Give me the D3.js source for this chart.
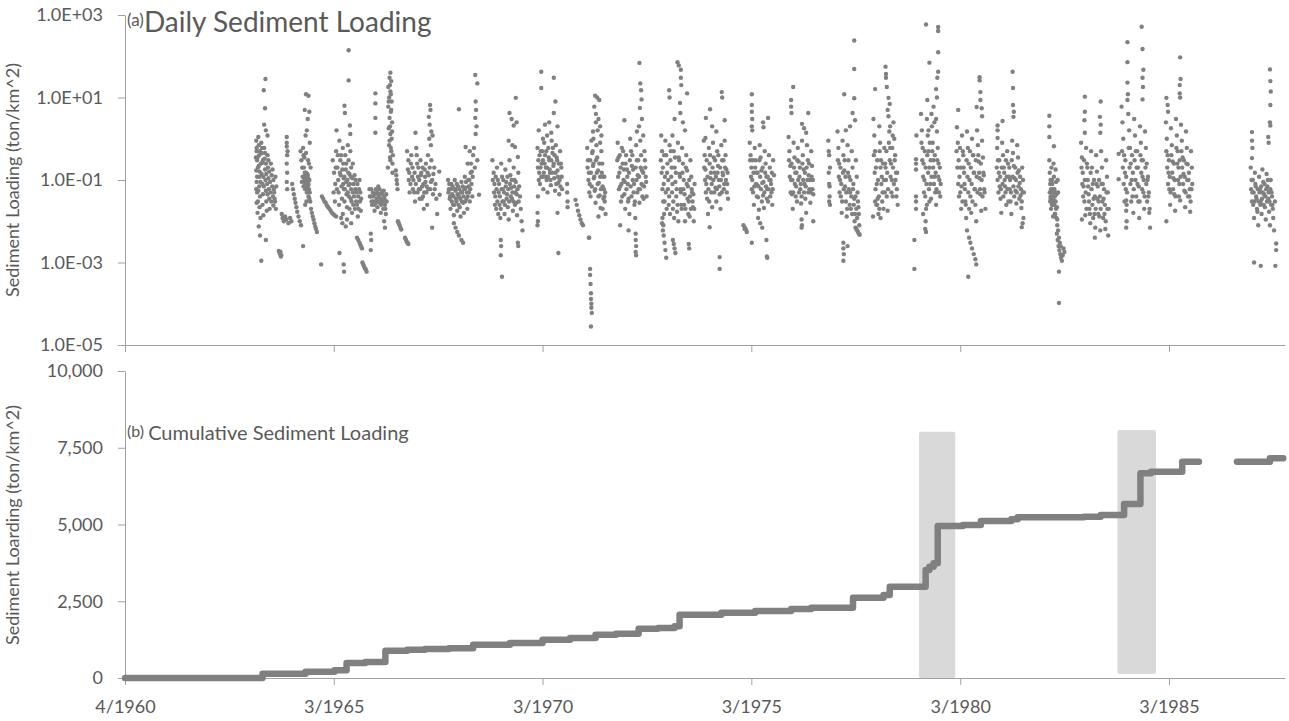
<!DOCTYPE html>
<html>
<head>
<meta charset="utf-8">
<script src="https://cdn.jsdelivr.net/npm/d3@7"></script>
<style>
  body { margin: 0; background: #fff; }
  svg text { font-family: Lato, "Open Sans", sans-serif; fill: #595959; }
</style>
</head>
<body>
<div id="chart"></div>
<script>
// daily sediment loading (ton/km^2), one array per wet season: [decimal year, value]
var c1963 = [[1963.61,28],[1963.57,15],[1963.60,5.5],[1963.58,2.2],[1963.62,1.6],[1963.66,1.2],
  [1963.39,0.9],[1963.40,0.5],[1963.41,0.3],[1963.39,0.17],[1963.40,0.09],[1963.41,0.05],[1963.40,0.028],[1963.42,0.016],
  [1963.44,1.1],[1963.45,0.7],[1963.46,0.4],[1963.45,0.22],[1963.47,0.12],[1963.46,0.07],[1963.48,0.04],[1963.47,0.022],[1963.49,0.012],
  [1963.51,0.8],[1963.52,0.45],[1963.53,0.26],[1963.52,0.14],[1963.54,0.08],[1963.55,0.045],[1963.54,0.025],[1963.56,0.014],
  [1963.58,0.6],[1963.59,0.33],[1963.60,0.18],[1963.61,0.1],[1963.62,0.055],[1963.63,0.03],[1963.64,0.018],
  [1963.66,0.4],[1963.67,0.2],[1963.68,0.11],[1963.69,0.06],[1963.70,0.035],[1963.71,0.02],
  [1963.74,0.25],[1963.76,0.13],[1963.77,0.07],[1963.79,0.04],[1963.80,0.024],[1963.82,0.05],[1963.84,0.03],[1963.86,0.02],
  [1963.45,0.0075],[1963.48,0.0045],[1963.62,0.0035],[1963.51,0.0011],
  [1963.93,0.0019],[1963.95,0.0017],[1963.96,0.0016],[1963.98,0.0014],[1963.97,0.0018],[1963.99,0.0015],
  [1963.40,0.6],[1963.42,0.35],[1963.43,0.2],[1963.41,0.12],[1963.44,0.055],[1963.43,0.03],[1963.47,0.16],[1963.49,0.09],[1963.48,0.5],
  [1963.50,0.25],[1963.53,0.6],[1963.55,0.3],[1963.56,0.12],[1963.57,0.07],[1963.60,0.45],[1963.62,0.25],[1963.63,0.14],[1963.65,0.08],
  [1963.66,0.045],[1963.68,0.3],[1963.70,0.16],[1963.72,0.09],[1963.73,0.05],[1963.75,0.03],[1963.78,0.18],[1963.80,0.1],[1963.81,0.06],
  [1963.83,0.035],[1963.85,0.12],[1963.87,0.07],[1963.38,0.35],[1963.39,0.06]];

var c1964 = [[1964.12,1.1],[1964.12,0.65],[1964.13,0.4],[1964.12,0.25],[1964.13,0.15],[1964.12,0.09],[1964.13,0.06],
  [1964.00,0.015],[1964.02,0.012],[1964.05,0.01],[1964.08,0.013],[1964.11,0.011],[1964.16,0.009],[1964.20,0.012],[1964.23,0.01],
  [1964.25,0.08],[1964.27,0.06],[1964.29,0.045],[1964.31,0.035],[1964.33,0.028],[1964.35,0.022],[1964.37,0.017],[1964.40,0.013],[1964.43,0.01],[1964.46,0.008],
  [1964.58,12],[1964.64,11],[1964.55,5],[1964.66,4.5],[1964.62,3],[1964.60,1.6],[1964.57,1.2],
  [1964.45,0.5],[1964.47,0.3],[1964.49,0.2],[1964.51,0.6],[1964.53,0.12],[1964.54,0.35],[1964.55,0.08],[1964.56,0.06],[1964.57,0.1],
  [1964.58,0.15],[1964.59,0.07],[1964.60,0.05],[1964.61,0.09],[1964.62,0.13],[1964.63,0.06],[1964.64,0.04],[1964.65,0.25],[1964.66,0.035],
  [1964.67,0.8],[1964.68,0.03],[1964.70,0.02],[1964.56,0.025],[1964.59,0.03],[1964.61,0.065],[1964.63,0.075],
  [1964.72,0.016],[1964.74,0.013],[1964.76,0.011],[1964.78,0.009],[1964.80,0.0075],[1964.82,0.0065],[1964.84,0.0055],
  [1964.51,0.0025],[1964.94,0.0009],
  [1964.48,0.09],[1964.50,0.12],[1964.52,0.07],[1964.53,0.2],[1964.54,0.1],[1964.55,0.15],[1964.56,0.11],[1964.57,0.07],[1964.58,0.09],
  [1964.59,0.12],[1964.60,0.08],[1964.61,0.14],[1964.62,0.1],[1964.63,0.11],[1964.64,0.08],[1964.65,0.06],[1964.66,0.1],[1964.67,0.05],
  [1964.52,0.4],[1964.58,0.45],[1964.63,0.3],[1964.69,0.2],[1964.14,0.5],[1964.12,0.8]];

var c1965 = [[1964.96,0.04],[1964.99,0.035],[1965.02,0.03],[1965.05,0.028],[1965.08,0.024],[1965.11,0.022],[1965.14,0.02],[1965.17,0.018],
  [1965.20,0.016],[1965.23,0.015],[1965.26,0.014],[1965.30,0.013],
  [1965.60,140],[1965.60,26],[1965.50,6.3],[1965.51,4.2],[1965.31,1.6],[1965.63,2.1],[1965.64,1.3],
  [1965.22,0.3],[1965.25,0.15],[1965.28,0.08],[1965.30,0.5],[1965.33,0.2],[1965.35,0.1],[1965.36,0.05],[1965.38,0.9],[1965.40,0.3],
  [1965.41,0.13],[1965.43,0.07],[1965.44,0.035],[1965.46,0.6],[1965.47,0.25],[1965.48,0.11],[1965.49,0.06],[1965.50,0.03],[1965.52,0.4],
  [1965.53,0.18],[1965.54,0.09],[1965.55,0.045],[1965.56,0.022],[1965.58,0.7],[1965.59,0.15],[1965.60,0.075],[1965.61,0.04],[1965.62,0.02],
  [1965.64,0.5],[1965.65,0.12],[1965.66,0.06],[1965.67,0.03],[1965.68,0.016],[1965.70,0.25],[1965.72,0.08],[1965.73,0.04],[1965.75,0.02],
  [1965.77,0.1],[1965.79,0.05],[1965.80,0.025],[1965.82,0.013],[1965.85,0.06],[1965.87,0.03],[1965.89,0.018],[1965.42,0.012],[1965.45,0.009],
  [1965.53,0.0075],[1965.38,0.0017],[1965.48,0.0009],[1965.49,0.0006],
  [1965.80,0.004],[1965.83,0.0035],[1965.86,0.003],[1965.88,0.0027],[1965.90,0.0024],[1965.92,0.0022],[1965.93,0.001],[1965.95,0.0009],
  [1965.97,0.0008],[1965.99,0.00072],[1966.01,0.00068],[1966.03,0.0006],
  [1965.24,0.05],[1965.27,0.03],[1965.29,0.2],[1965.32,0.06],[1965.34,0.4],[1965.37,0.025],[1965.39,0.15],[1965.42,0.4],[1965.45,0.18],
  [1965.47,0.08],[1965.50,0.12],[1965.51,0.06],[1965.54,0.25],[1965.57,0.1],[1965.58,0.05],[1965.60,0.3],[1965.62,0.14],[1965.63,0.08],
  [1965.65,0.035],[1965.66,0.2],[1965.69,0.11],[1965.70,0.05],[1965.71,0.025],[1965.74,0.13],[1965.76,0.06],[1965.78,0.03],[1965.81,0.08],
  [1965.83,0.04],[1965.84,0.02],[1965.86,0.1],[1965.88,0.05],[1965.90,0.035],[1965.46,0.015],[1965.56,0.011],[1965.66,0.009]];

var c1966 = [[1966.24,12.6],[1966.24,7.2],[1966.24,3.2],[1966.24,1.4],[1966.60,40],[1966.58,30],[1966.62,25],[1966.55,18],[1966.60,14],
  [1966.57,10],[1966.63,8],[1966.55,6],[1966.61,4.5],[1966.58,3.2],[1966.64,2.5],[1966.56,1.8],[1966.60,1.3],[1966.63,1.0],[1966.57,0.7],
  [1966.62,0.5],[1966.59,0.35],[1966.65,0.25],[1966.54,0.2],
  [1966.73,0.17],[1966.74,0.13],[1966.75,0.1],[1966.76,0.08],[1966.77,0.06],
  [1966.10,0.06],[1966.13,0.04],[1966.16,0.025],[1966.18,0.05],[1966.20,0.03],[1966.22,0.018],[1966.25,0.06],[1966.27,0.035],[1966.29,0.022],
  [1966.31,0.07],[1966.33,0.045],[1966.35,0.028],[1966.37,0.016],[1966.39,0.05],[1966.41,0.032],[1966.43,0.02],[1966.45,0.04],[1966.47,0.025],
  [1966.49,0.015],[1966.51,0.03],
  [1966.13,0.005],[1966.14,0.0035],[1966.13,0.002],[1966.45,0.01],[1966.47,0.007],
  [1966.78,0.01],[1966.80,0.009],[1966.82,0.008],[1966.84,0.007],[1966.86,0.0063],[1966.95,0.004],[1966.97,0.0036],[1966.99,0.0032],
  [1967.01,0.003],[1967.03,0.0028],
  [1966.11,0.04],[1966.14,0.06],[1966.15,0.03],[1966.19,0.04],[1966.21,0.025],[1966.23,0.045],[1966.26,0.028],[1966.28,0.05],[1966.30,0.03],
  [1966.32,0.04],[1966.34,0.06],[1966.36,0.035],[1966.38,0.025],[1966.40,0.045],[1966.42,0.03],[1966.44,0.055],[1966.46,0.035],[1966.48,0.02],
  [1966.50,0.045],[1966.59,20],[1966.61,12],[1966.56,8],[1966.62,5],[1966.59,2],[1966.64,1.5],[1966.58,0.9],[1966.61,0.6],[1966.66,0.4],
  [1966.60,0.3],[1966.65,0.15]];

var c1967 = [[1967.20,1.4],[1967.55,6.6],[1967.56,5],[1967.52,3.4],[1967.54,2.2],[1967.58,1.5],[1967.53,1.0],[1967.57,0.7],[1967.61,1.2],
  [1967.00,0.5],[1967.03,0.3],[1967.05,0.15],[1967.08,0.08],[1967.10,0.4],[1967.13,0.2],[1967.15,0.1],[1967.17,0.05],[1967.19,0.03],
  [1967.22,0.6],[1967.24,0.25],[1967.26,0.12],[1967.28,0.06],[1967.30,0.035],[1967.32,0.3],[1967.34,0.15],[1967.36,0.07],[1967.38,0.04],
  [1967.40,0.02],[1967.42,0.18],[1967.44,0.09],[1967.46,0.05],[1967.48,0.025],[1967.50,0.4],[1967.52,0.13],[1967.55,0.06],[1967.58,0.3],
  [1967.60,0.1],[1967.62,0.045],[1967.65,0.2],[1967.68,0.08],[1967.70,0.035],[1967.72,0.015],[1967.60,0.007],
  [1967.77,0.16],[1967.78,0.044],
  [1967.02,0.18],[1967.04,0.1],[1967.06,0.05],[1967.09,0.25],[1967.12,0.12],[1967.14,0.06],[1967.18,0.15],[1967.21,0.08],[1967.23,0.4],
  [1967.25,0.05],[1967.27,0.2],[1967.29,0.1],[1967.31,0.06],[1967.33,0.13],[1967.35,0.035],[1967.37,0.2],[1967.39,0.08],[1967.41,0.05],
  [1967.43,0.12],[1967.45,0.25],[1967.47,0.07],[1967.49,0.15],[1967.51,0.06],[1967.54,0.2],[1967.57,0.09],[1967.63,0.14],[1967.66,0.06]];

var c1968 = [[1968.63,35],[1968.68,22],[1968.24,5.2],[1968.64,8],[1968.65,5],[1968.63,3.2],[1968.66,2],[1968.64,1.3],[1968.40,0.63],
  [1968.50,0.5],[1968.58,0.4],[1968.68,0.3],[1968.45,0.25],[1968.62,0.2],[1968.55,0.16],[1968.72,0.044],
  [1967.98,0.1],[1968.00,0.06],[1968.02,0.035],[1968.04,0.02],[1968.06,0.08],[1968.08,0.045],[1968.10,0.025],[1968.12,0.014],
  [1968.14,0.1],[1968.16,0.055],[1968.18,0.03],[1968.20,0.018],[1968.22,0.07],[1968.24,0.04],[1968.26,0.022],[1968.28,0.013],
  [1968.30,0.09],[1968.32,0.05],[1968.34,0.028],[1968.36,0.016],[1968.38,0.12],[1968.40,0.065],[1968.42,0.035],[1968.44,0.02],
  [1968.46,0.1],[1968.48,0.05],[1968.50,0.03],[1968.52,0.15],[1968.54,0.08],[1968.56,0.04],
  [1968.12,0.009],[1968.16,0.007],[1968.20,0.0055],[1968.24,0.0045],[1968.30,0.0035],[1968.34,0.003],
  [1967.99,0.05],[1968.01,0.08],[1968.03,0.04],[1968.05,0.06],[1968.07,0.03],[1968.09,0.07],[1968.11,0.04],[1968.13,0.025],[1968.15,0.06],
  [1968.17,0.035],[1968.19,0.08],[1968.21,0.045],[1968.23,0.025],[1968.25,0.06],[1968.27,0.035],[1968.29,0.05],[1968.31,0.03],[1968.33,0.07],
  [1968.35,0.04],[1968.37,0.06],[1968.39,0.03],[1968.41,0.09],[1968.43,0.05],[1968.45,0.04],[1968.47,0.07],[1968.49,0.1],[1968.51,0.06],
  [1968.53,0.25],[1968.57,0.12],[1968.60,0.6]];

var c1969 = [[1969.60,9.8],[1969.45,4.2],[1969.50,3],[1969.62,2.5],[1969.55,2.1],[1969.43,0.9],[1969.52,0.7],[1969.58,0.63],[1969.65,0.36],
  [1969.04,0.3],[1969.07,0.15],[1969.09,0.08],[1969.11,0.04],[1969.13,0.02],[1969.15,0.2],[1969.17,0.1],[1969.19,0.05],[1969.21,0.025],
  [1969.23,0.012],[1969.25,0.25],[1969.27,0.12],[1969.29,0.06],[1969.31,0.03],[1969.33,0.015],[1969.35,0.18],[1969.37,0.09],[1969.39,0.045],
  [1969.41,0.022],[1969.43,0.011],[1969.45,0.3],[1969.47,0.13],[1969.49,0.065],[1969.51,0.035],[1969.53,0.018],[1969.55,0.2],[1969.57,0.1],
  [1969.59,0.05],[1969.61,0.028],[1969.63,0.014],[1969.66,0.15],[1969.68,0.07],[1969.70,0.04],[1969.72,0.02],[1969.74,0.01],[1969.76,0.006],
  [1969.24,0.0035],[1969.25,0.0025],[1969.24,0.0015],[1969.27,0.00045],[1969.65,0.003],[1969.66,0.0025],
  [1969.05,0.1],[1969.08,0.05],[1969.10,0.025],[1969.12,0.12],[1969.14,0.06],[1969.16,0.03],[1969.18,0.015],[1969.20,0.08],[1969.22,0.04],
  [1969.24,0.02],[1969.26,0.06],[1969.28,0.03],[1969.30,0.1],[1969.32,0.05],[1969.34,0.025],[1969.36,0.07],[1969.38,0.035],[1969.40,0.12],
  [1969.42,0.06],[1969.44,0.03],[1969.46,0.08],[1969.48,0.04],[1969.50,0.1],[1969.52,0.05],[1969.54,0.03],[1969.56,0.07],[1969.58,0.025],
  [1969.60,0.09],[1969.62,0.045],[1969.64,0.06],[1969.67,0.03]];

var c1970 = [[1970.21,42],[1970.21,17],[1970.51,30],[1970.55,8],[1970.51,4.2],[1970.40,2.5],[1970.30,2.2],[1970.60,2],[1970.15,1.6],
  [1970.45,1.4],[1970.35,1.2],[1970.25,1.0],
  [1970.12,0.6],[1970.14,0.3],[1970.16,0.15],[1970.18,0.08],[1970.20,0.5],[1970.22,0.25],[1970.24,0.12],[1970.26,0.06],[1970.28,0.8],
  [1970.30,0.4],[1970.32,0.2],[1970.34,0.1],[1970.36,0.05],[1970.38,0.6],[1970.40,0.3],[1970.42,0.15],[1970.44,0.075],[1970.46,0.9],
  [1970.48,0.45],[1970.50,0.22],[1970.52,0.11],[1970.54,0.055],[1970.56,0.7],[1970.58,0.35],[1970.60,0.17],[1970.62,0.085],[1970.64,0.045],
  [1970.66,0.5],[1970.68,0.25],[1970.70,0.12],[1970.71,0.06],[1970.12,0.016],[1970.13,0.01],[1970.12,0.008],[1970.13,0.04],
  [1970.83,0.08],[1970.83,0.05],[1970.84,0.03],[1970.84,0.022],[1970.60,0.016],[1970.62,0.0017],
  [1970.13,0.2],[1970.15,0.1],[1970.17,0.4],[1970.19,0.2],[1970.21,0.12],[1970.23,0.5],[1970.25,0.3],[1970.27,0.15],[1970.29,0.25],
  [1970.31,0.12],[1970.33,0.5],[1970.35,0.2],[1970.37,0.12],[1970.39,0.35],[1970.41,0.18],[1970.43,0.1],[1970.45,0.3],[1970.47,0.15],
  [1970.49,0.6],[1970.51,0.25],[1970.53,0.4],[1970.55,0.15],[1970.57,0.08],[1970.59,0.3],[1970.61,0.12],[1970.63,0.25],[1970.65,0.1],
  [1970.67,0.07],[1970.69,0.2]];

var c1971 = [[1971.50,11],[1971.55,10],[1971.60,8.7],[1971.48,6],[1971.52,4],[1971.58,3],[1971.62,2],[1971.45,1.5],[1971.65,1.2],
  [1971.31,0.6],[1971.33,0.3],[1971.35,0.15],[1971.37,0.08],[1971.39,0.04],[1971.41,0.9],[1971.43,0.45],[1971.45,0.22],[1971.47,0.11],
  [1971.49,0.055],[1971.51,0.028],[1971.53,0.7],[1971.55,0.35],[1971.57,0.17],[1971.59,0.085],[1971.61,0.042],[1971.63,0.021],[1971.65,0.5],
  [1971.67,0.25],[1971.69,0.12],[1971.71,0.06],[1971.73,0.03],[1971.75,0.015],[1971.58,0.013],[1971.68,0.02],[1971.72,0.04],
  [1971.03,0.033],[1971.06,0.025],[1971.09,0.018],[1971.12,0.014],[1971.15,0.011],[1971.18,0.009],[1971.21,0.008],[1971.35,0.004],[1971.36,0.004],
  [1971.38,0.0007],[1971.38,0.0005],[1971.39,0.0003],[1971.40,0.00018],[1971.40,0.00013],[1971.41,0.0001],[1971.41,0.00008],[1971.42,0.00006],
  [1971.40,0.000028],
  [1971.32,0.2],[1971.34,0.1],[1971.36,0.05],[1971.38,0.3],[1971.40,0.15],[1971.42,0.07],[1971.44,0.5],[1971.46,0.25],[1971.48,0.12],
  [1971.50,0.06],[1971.52,0.3],[1971.54,0.15],[1971.56,0.08],[1971.58,0.04],[1971.60,0.25],[1971.62,0.12],[1971.64,0.06],[1971.66,0.15],
  [1971.68,0.07],[1971.70,0.035],[1971.72,0.12],[1971.74,0.05],[1971.46,1],[1971.52,2.5],[1971.56,1.6],[1971.62,0.8]];

var c1972 = [[1972.56,69],[1972.58,22],[1972.60,15],[1972.61,9],[1972.57,5.6],[1972.20,2.8],[1972.62,3],[1972.55,2],[1972.50,1.5],[1972.65,1.2],
  [1972.04,0.8],[1972.06,0.35],[1972.08,0.15],[1972.10,0.07],[1972.12,0.03],[1972.14,0.6],[1972.16,0.25],[1972.18,0.1],[1972.20,0.045],
  [1972.22,0.02],[1972.24,0.4],[1972.26,0.18],[1972.28,0.08],[1972.30,0.035],[1972.32,0.015],[1972.34,1.0],[1972.36,0.5],[1972.38,0.22],
  [1972.40,0.1],[1972.42,0.05],[1972.44,0.025],[1972.46,0.012],[1972.48,0.7],[1972.50,0.3],[1972.52,0.13],[1972.54,0.06],[1972.56,0.028],
  [1972.58,0.9],[1972.60,0.4],[1972.62,0.17],[1972.64,0.075],[1972.66,0.035],[1972.68,0.5],[1972.70,0.2],[1972.72,0.09],[1972.73,0.04],
  [1972.10,0.008],[1972.30,0.006],
  [1972.47,0.005],[1972.47,0.0035],[1972.48,0.0025],[1972.47,0.0018],[1972.48,0.0015],
  [1972.03,0.3],[1972.05,0.12],[1972.07,0.06],[1972.09,0.4],[1972.11,0.2],[1972.13,0.08],[1972.15,0.04],[1972.17,0.5],[1972.19,0.18],
  [1972.21,0.09],[1972.23,0.25],[1972.25,0.06],[1972.27,0.12],[1972.29,0.03],[1972.31,0.15],[1972.33,0.3],[1972.35,0.07],[1972.37,0.04],
  [1972.39,0.4],[1972.41,0.18],[1972.43,0.08],[1972.45,0.03],[1972.47,0.2],[1972.49,0.1],[1972.51,0.05],[1972.53,0.3],[1972.55,0.12],
  [1972.57,0.06],[1972.59,0.2],[1972.61,0.08],[1972.63,0.04],[1972.65,0.15],[1972.67,0.07],[1972.69,0.3],[1972.71,0.12]];

var c1973 = [[1973.47,72],[1973.50,60],[1973.55,47],[1973.55,30],[1973.56,20],[1973.27,15],[1973.28,10],[1973.53,7.4],[1973.54,4.2],
  [1973.70,12.6],[1973.40,3],[1973.60,2.5],[1973.65,1.6],[1973.35,1.2],
  [1973.08,1.2],[1973.10,0.5],[1973.12,0.2],[1973.14,0.08],[1973.16,0.03],[1973.18,0.9],[1973.20,0.4],[1973.22,0.15],[1973.24,0.06],
  [1973.26,0.025],[1973.28,0.7],[1973.30,0.3],[1973.32,0.12],[1973.34,0.05],[1973.36,0.02],[1973.38,0.5],[1973.40,0.2],[1973.42,0.09],
  [1973.44,0.04],[1973.46,0.017],[1973.48,0.8],[1973.50,0.35],[1973.52,0.14],[1973.54,0.06],[1973.56,0.025],[1973.58,0.6],[1973.60,0.25],
  [1973.62,0.1],[1973.64,0.045],[1973.66,0.02],[1973.68,0.4],[1973.70,0.17],[1973.72,0.07],[1973.74,0.03],[1973.76,0.013],[1973.78,0.3],
  [1973.80,0.12],[1973.82,0.05],[1973.84,0.022],[1973.86,0.01],[1973.88,0.08],
  [1973.10,0.009],[1973.12,0.006],[1973.14,0.0045],[1973.16,0.003],[1973.18,0.002],[1973.20,0.0013],[1973.36,0.0035],[1973.38,0.0028],
  [1973.40,0.0022],[1973.42,0.0017],[1973.74,0.0028],[1973.75,0.0022],
  [1973.07,0.3],[1973.09,0.15],[1973.11,0.06],[1973.13,0.03],[1973.15,0.4],[1973.17,0.12],[1973.19,0.05],[1973.21,0.02],[1973.23,0.25],
  [1973.25,0.1],[1973.27,0.04],[1973.29,0.015],[1973.31,0.5],[1973.33,0.2],[1973.35,0.08],[1973.37,0.03],[1973.39,0.012],[1973.41,0.35],
  [1973.43,0.15],[1973.45,0.06],[1973.47,0.025],[1973.49,0.01],[1973.51,0.3],[1973.53,0.12],[1973.55,0.05],[1973.57,0.02],[1973.59,0.15],
  [1973.61,0.06],[1973.63,0.025],[1973.65,0.01],[1973.67,0.2],[1973.69,0.08],[1973.71,0.035],[1973.73,0.015],[1973.75,0.1],[1973.77,0.04],
  [1973.79,0.02],[1973.81,0.06],[1973.83,0.03],[1973.85,0.045],[1973.87,0.02],[1973.11,0.012],[1973.13,0.008],[1973.15,0.015]];

var c1974 = [[1974.53,13.5],[1974.54,10],[1974.25,5.2],[1974.15,3.2],[1974.60,2.8],[1974.14,1.05],[1974.40,1.5],[1974.30,2],
  [1974.10,0.9],[1974.12,0.4],[1974.14,0.18],[1974.16,0.08],[1974.18,0.035],[1974.20,0.015],[1974.22,0.6],[1974.24,0.25],[1974.26,0.11],
  [1974.28,0.05],[1974.30,0.022],[1974.32,0.8],[1974.34,0.35],[1974.36,0.15],[1974.38,0.065],[1974.40,0.03],[1974.42,0.5],[1974.44,0.22],
  [1974.46,0.1],[1974.48,0.045],[1974.50,0.02],[1974.52,0.7],[1974.54,0.3],[1974.56,0.13],[1974.58,0.06],[1974.60,0.9],[1974.62,0.4],
  [1974.64,0.18],[1974.66,0.08],[1974.68,0.035],[1974.24,0.0072],
  [1974.48,0.00135],[1974.48,0.0007],
  [1974.11,0.2],[1974.13,0.1],[1974.15,0.05],[1974.17,0.3],[1974.19,0.12],[1974.21,0.06],[1974.23,0.03],[1974.25,0.4],[1974.27,0.15],
  [1974.29,0.08],[1974.31,0.2],[1974.33,0.1],[1974.35,0.05],[1974.37,0.3],[1974.39,0.12],[1974.41,0.06],[1974.43,0.15],[1974.45,0.4],
  [1974.47,0.07],[1974.49,0.2],[1974.51,0.1],[1974.53,0.05],[1974.55,0.15],[1974.57,0.3],[1974.59,0.08],[1974.61,0.2],[1974.63,0.1],
  [1974.65,0.05],[1974.67,0.15]];

var c1975 = [[1975.05,0.008],[1975.08,0.007],[1975.11,0.0063],[1975.13,0.0055],[1975.08,0.0065],
  [1975.25,12],[1975.25,6.6],[1975.25,4.5],[1975.26,3],[1975.25,2],[1975.26,1.6],[1975.52,2.5],[1975.53,1.9],[1975.64,3.2],
  [1975.20,0.8],[1975.22,0.4],[1975.24,0.2],[1975.26,0.1],[1975.28,0.05],[1975.30,0.025],[1975.32,0.6],[1975.34,0.3],[1975.36,0.15],
  [1975.38,0.075],[1975.40,0.038],[1975.42,0.019],[1975.44,0.7],[1975.46,0.35],[1975.48,0.17],[1975.50,0.085],[1975.52,0.042],[1975.54,0.021],
  [1975.56,0.5],[1975.58,0.25],[1975.60,0.12],[1975.62,0.06],[1975.64,0.03],[1975.66,0.4],[1975.68,0.2],[1975.70,0.1],[1975.72,0.05],
  [1975.74,0.025],[1975.76,0.3],[1975.78,0.13],[1975.40,0.012],[1975.45,0.009],[1975.50,0.007],
  [1975.25,0.003],[1975.60,0.0035],[1975.61,0.0014],[1975.62,0.0013],
  [1975.21,0.3],[1975.23,0.12],[1975.25,0.06],[1975.27,0.3],[1975.29,0.15],[1975.31,0.07],[1975.33,0.2],[1975.35,0.08],[1975.37,0.04],
  [1975.39,0.15],[1975.41,0.07],[1975.43,0.3],[1975.45,0.12],[1975.47,0.06],[1975.49,0.03],[1975.51,0.2],[1975.53,0.09],[1975.55,0.05],
  [1975.57,0.15],[1975.59,0.07],[1975.61,0.035],[1975.63,0.12],[1975.65,0.06],[1975.67,0.1],[1975.69,0.04],[1975.71,0.08],[1975.73,0.15],
  [1975.75,0.06]];

var c1976 = [[1976.24,18],[1976.19,8.7],[1976.19,6],[1976.20,4.2],[1976.60,4.2],[1976.45,2.3],[1976.50,1.8],[1976.55,1.4],
  [1976.13,1.1],[1976.15,0.5],[1976.17,0.22],[1976.19,0.1],[1976.21,0.045],[1976.23,0.02],[1976.25,0.8],[1976.27,0.35],[1976.29,0.15],
  [1976.31,0.07],[1976.33,0.03],[1976.35,0.6],[1976.37,0.28],[1976.39,0.12],[1976.41,0.06],[1976.43,0.027],[1976.45,0.9],[1976.47,0.4],
  [1976.49,0.18],[1976.51,0.08],[1976.53,0.035],[1976.55,0.016],[1976.57,0.7],[1976.59,0.3],[1976.61,0.13],[1976.63,0.06],[1976.65,0.028],
  [1976.67,0.5],[1976.69,0.22],[1976.71,0.1],[1976.72,0.045],
  [1976.44,0.011],[1976.45,0.008],[1976.44,0.007],[1976.72,0.01],
  [1976.14,0.3],[1976.16,0.12],[1976.18,0.05],[1976.20,0.25],[1976.22,0.1],[1976.24,0.05],[1976.26,0.2],[1976.28,0.08],[1976.30,0.04],
  [1976.32,0.15],[1976.34,0.3],[1976.36,0.1],[1976.38,0.05],[1976.40,0.2],[1976.42,0.08],[1976.44,0.04],[1976.46,0.25],[1976.48,0.1],
  [1976.50,0.05],[1976.52,0.15],[1976.54,0.07],[1976.56,0.2],[1976.58,0.1],[1976.60,0.05],[1976.62,0.25],[1976.64,0.1],[1976.66,0.05],
  [1976.68,0.12],[1976.70,0.06]];

var c1977 = [[1977.70,240],[1977.70,49],[1977.46,12],[1977.70,9.6],[1977.66,4.2],[1977.72,2.8],[1977.60,2],[1977.50,1.6],
  [1977.08,0.9],[1977.10,0.4],[1977.09,0.15],[1977.11,0.07],[1977.10,0.03],[1977.12,0.2],
  [1977.30,1.5],[1977.32,0.6],[1977.34,0.25],[1977.36,0.1],[1977.38,0.04],[1977.40,0.016],[1977.42,0.9],[1977.44,0.4],[1977.46,0.17],
  [1977.48,0.07],[1977.50,0.03],[1977.52,0.013],[1977.54,0.7],[1977.56,0.3],[1977.58,0.12],[1977.60,0.05],[1977.62,0.02],[1977.64,0.5],
  [1977.66,0.2],[1977.68,0.08],[1977.70,0.035],[1977.72,0.015],[1977.74,0.3],[1977.76,0.12],[1977.78,0.05],[1977.80,0.022],
  [1977.73,0.007],[1977.75,0.0065],[1977.77,0.006],[1977.79,0.0055],[1977.81,0.005],[1977.83,0.0047],
  [1977.44,0.003],[1977.44,0.0022],[1977.45,0.0016],[1977.44,0.0011],[1977.54,0.0025],
  [1977.09,0.5],[1977.10,0.08],[1977.11,0.04],[1977.12,0.025],[1977.31,0.3],[1977.33,0.12],[1977.35,0.05],[1977.37,0.2],[1977.39,0.08],
  [1977.41,0.03],[1977.43,0.15],[1977.45,0.06],[1977.47,0.3],[1977.49,0.12],[1977.51,0.05],[1977.53,0.02],[1977.55,0.15],[1977.57,0.06],
  [1977.59,0.025],[1977.61,0.1],[1977.63,0.04],[1977.65,0.015],[1977.67,0.06],[1977.69,0.025],[1977.71,0.01],[1977.73,0.04],[1977.75,0.02],
  [1977.77,0.012],[1977.79,0.03],[1977.81,0.015],[1977.82,0.008]];

var c1978 = [[1978.45,56],[1978.46,37],[1978.46,30],[1978.48,18],[1978.20,16],[1978.52,9.8],[1978.55,7],[1978.50,5],
  [1978.16,3],[1978.18,1.2],[1978.20,0.5],[1978.22,0.2],[1978.24,0.08],[1978.26,0.035],[1978.28,0.015],[1978.30,2],[1978.32,0.8],
  [1978.34,0.3],[1978.36,0.12],[1978.38,0.05],[1978.40,0.02],[1978.42,0.6],[1978.44,0.25],[1978.46,0.1],[1978.48,0.04],[1978.50,0.018],
  [1978.52,3.5],[1978.54,1.5],[1978.56,0.6],[1978.58,0.25],[1978.60,0.1],[1978.62,0.04],[1978.64,2.5],[1978.66,1],[1978.68,0.4],
  [1978.70,0.15],[1978.72,0.06],[1978.74,0.025],[1978.20,0.03],[1978.25,0.025],[1978.30,0.02],
  [1978.15,0.013],[1978.33,0.012],
  [1978.17,0.4],[1978.19,0.15],[1978.21,0.06],[1978.23,0.025],[1978.25,0.3],[1978.27,0.1],[1978.29,0.04],[1978.31,0.5],[1978.33,0.2],
  [1978.35,0.08],[1978.37,0.03],[1978.39,0.25],[1978.41,0.1],[1978.43,0.05],[1978.45,0.2],[1978.47,0.5],[1978.49,0.15],[1978.51,0.06],
  [1978.53,0.8],[1978.55,0.3],[1978.57,0.12],[1978.59,0.05],[1978.61,0.6],[1978.63,0.2],[1978.65,0.08],[1978.67,0.3],[1978.69,0.1],
  [1978.71,0.04],[1978.73,0.15],[1978.56,2],[1978.62,1.2]];

var c1979 = [[1979.42,590],[1979.71,510],[1979.71,410],[1979.71,125],[1979.50,70],[1979.71,42],[1979.69,30],[1979.66,16],[1979.68,10],
  [1979.45,8.7],[1979.60,6],
  [1979.18,0.32],[1979.18,0.25],[1979.18,0.18],[1979.19,1.2],[1979.18,0.04],[1979.18,0.03],[1979.18,0.02],
  [1979.30,4],[1979.32,1.6],[1979.34,0.6],[1979.36,0.25],[1979.38,0.1],[1979.40,0.04],[1979.42,0.02],[1979.44,3],[1979.46,1.2],
  [1979.48,0.5],[1979.50,0.2],[1979.52,0.08],[1979.54,0.035],[1979.56,2],[1979.58,0.8],[1979.60,0.3],[1979.62,0.12],[1979.64,0.05],
  [1979.66,0.025],[1979.68,1.5],[1979.70,0.6],[1979.72,0.25],[1979.74,0.1],[1979.76,0.04],[1979.35,0.015],[1979.40,0.0065],[1979.42,0.0055],
  [1979.41,0.01],[1979.14,0.0035],[1979.14,0.0007],
  [1979.31,0.8],[1979.33,0.3],[1979.35,0.12],[1979.37,0.05],[1979.39,0.5],[1979.41,0.2],[1979.43,0.08],[1979.45,0.4],[1979.47,0.15],
  [1979.49,0.06],[1979.51,0.8],[1979.53,0.3],[1979.55,0.12],[1979.57,0.5],[1979.59,0.2],[1979.61,0.08],[1979.63,0.4],[1979.65,0.15],
  [1979.67,0.06],[1979.69,0.3],[1979.71,0.12],[1979.73,0.05],[1979.75,0.2],[1979.77,0.08],[1979.55,4],[1979.62,2.5],[1979.48,1.6],
  [1979.66,3],[1979.44,0.025],[1979.50,0.03]];

var c1980 = [[1980.70,31],[1980.70,26],[1980.72,13.5],[1980.72,8.7],[1980.19,5],[1980.63,5.9],[1980.75,5.5],[1980.76,3.5],
  [1980.16,1.9],[1980.18,0.8],[1980.20,0.3],[1980.22,0.12],[1980.24,0.05],[1980.26,0.02],[1980.28,1.2],[1980.30,0.5],[1980.32,0.2],
  [1980.34,0.08],[1980.36,0.03],[1980.38,0.012],[1980.40,1.5],[1980.42,0.6],[1980.44,0.25],[1980.46,0.1],[1980.48,0.04],[1980.50,0.016],
  [1980.52,1],[1980.54,0.4],[1980.56,0.15],[1980.58,0.06],[1980.60,0.025],[1980.62,0.01],[1980.64,1.6],[1980.66,0.7],[1980.68,0.28],
  [1980.70,0.11],[1980.72,0.045],[1980.74,0.018],[1980.76,0.9],[1980.78,0.35],[1980.80,0.13],[1980.82,0.05],[1980.84,0.02],
  [1980.40,0.006],[1980.45,0.004],[1980.48,0.003],[1980.52,0.0022],[1980.56,0.0016],[1980.60,0.0012],[1980.62,0.0009],[1980.43,0.00045],
  [1980.15,0.5],[1980.17,0.2],[1980.19,0.08],[1980.21,0.04],[1980.23,0.6],[1980.25,0.2],[1980.27,0.07],[1980.29,0.03],[1980.31,0.4],
  [1980.33,0.15],[1980.35,0.06],[1980.37,0.025],[1980.39,0.3],[1980.41,0.12],[1980.43,0.05],[1980.45,0.02],[1980.47,0.5],[1980.49,0.2],
  [1980.51,0.08],[1980.53,0.03],[1980.55,0.4],[1980.57,0.15],[1980.59,0.06],[1980.61,0.3],[1980.63,0.12],[1980.65,0.05],[1980.67,0.4],
  [1980.69,0.15],[1980.71,0.06],[1980.73,0.25],[1980.75,0.1],[1980.77,0.04],[1980.79,0.15],[1980.81,0.06]];

var c1981 = [[1981.49,42],[1981.50,17],[1981.50,6.6],[1981.52,4.5],[1981.51,3.4],[1981.25,2.7],[1981.13,2.1],[1981.13,1.6],[1981.13,1.05],
  [1981.12,0.6],[1981.14,0.3],[1981.16,0.15],[1981.18,0.07],[1981.20,0.035],[1981.22,0.016],[1981.24,0.8],[1981.26,0.4],[1981.28,0.2],
  [1981.30,0.1],[1981.32,0.05],[1981.34,0.025],[1981.36,0.5],[1981.38,0.25],[1981.40,0.12],[1981.42,0.06],[1981.44,0.03],[1981.46,0.015],
  [1981.48,0.9],[1981.50,0.45],[1981.52,0.22],[1981.54,0.11],[1981.56,0.055],[1981.58,0.027],[1981.60,0.7],[1981.62,0.35],[1981.64,0.17],
  [1981.66,0.085],[1981.68,0.042],[1981.70,0.021],[1981.72,0.2],[1981.74,0.1],[1981.76,0.05],[1981.75,0.012],[1981.71,0.0072],[1981.73,0.009],
  [1981.11,0.2],[1981.13,0.1],[1981.15,0.05],[1981.17,0.3],[1981.19,0.12],[1981.21,0.06],[1981.23,0.2],[1981.25,0.08],[1981.27,0.04],
  [1981.29,0.15],[1981.31,0.07],[1981.33,0.3],[1981.35,0.12],[1981.37,0.06],[1981.39,0.03],[1981.41,0.2],[1981.43,0.1],[1981.45,0.05],
  [1981.47,0.3],[1981.49,0.12],[1981.51,0.07],[1981.53,0.04],[1981.55,0.2],[1981.57,0.1],[1981.59,0.05],[1981.61,0.15],[1981.63,0.07],
  [1981.65,0.035],[1981.67,0.12],[1981.69,0.06],[1981.71,0.03],[1981.73,0.05]];

var c1982 = [[1982.37,3.6],[1982.37,2],[1982.37,1.1],[1982.48,0.66],
  [1982.37,0.3],[1982.38,0.15],[1982.39,0.08],[1982.40,0.04],[1982.41,0.02],[1982.42,0.2],[1982.43,0.1],[1982.44,0.05],[1982.45,0.025],
  [1982.46,0.013],[1982.47,0.25],[1982.48,0.12],[1982.49,0.06],[1982.50,0.03],[1982.51,0.015],[1982.52,0.18],[1982.53,0.09],[1982.54,0.045],
  [1982.55,0.022],[1982.56,0.011],[1982.57,0.1],[1982.58,0.05],[1982.40,0.035],[1982.44,0.03],[1982.50,0.04],
  [1982.55,0.005],[1982.57,0.0035],[1982.59,0.0025],[1982.61,0.002],[1982.63,0.0016],[1982.65,0.0013],[1982.67,0.0011],[1982.69,0.0015],
  [1982.71,0.0022],[1982.73,0.0018],[1982.60,0.0006],[1982.60,0.000105],
  [1982.38,0.05],[1982.39,0.03],[1982.40,0.1],[1982.41,0.06],[1982.42,0.04],[1982.43,0.025],[1982.44,0.08],[1982.45,0.05],[1982.46,0.035],
  [1982.47,0.06],[1982.48,0.04],[1982.49,0.025],[1982.50,0.015],[1982.51,0.05],[1982.52,0.03],[1982.53,0.02],[1982.54,0.012],[1982.56,0.008],
  [1982.58,0.006],[1982.60,0.004],[1982.62,0.003],[1982.64,0.0025]];

var c1983 = [[1983.22,10.5],[1983.60,8],[1983.22,4.5],[1983.21,2.8],[1983.22,1.4],[1983.58,3.4],[1983.60,2.2],[1983.59,1.4],
  [1983.13,0.8],[1983.15,0.35],[1983.17,0.15],[1983.19,0.07],[1983.21,0.03],[1983.23,0.014],[1983.25,0.6],[1983.27,0.25],[1983.29,0.1],
  [1983.31,0.045],[1983.33,0.02],[1983.35,0.009],[1983.37,0.5],[1983.39,0.2],[1983.41,0.08],[1983.43,0.035],[1983.45,0.015],[1983.47,0.007],
  [1983.49,0.4],[1983.51,0.16],[1983.53,0.07],[1983.55,0.03],[1983.57,0.013],[1983.59,0.006],[1983.61,0.5],[1983.63,0.2],[1983.65,0.08],
  [1983.67,0.035],[1983.69,0.015],[1983.71,0.0065],[1983.73,0.3],[1983.75,0.12],[1983.77,0.05],[1983.79,0.02],[1983.78,0.0045],
  [1983.46,0.004],[1983.15,0.011],
  [1983.14,0.2],[1983.16,0.08],[1983.18,0.04],[1983.20,0.3],[1983.22,0.1],[1983.24,0.05],[1983.26,0.02],[1983.28,0.2],[1983.30,0.07],
  [1983.32,0.03],[1983.34,0.015],[1983.36,0.15],[1983.38,0.06],[1983.40,0.025],[1983.42,0.012],[1983.44,0.1],[1983.46,0.04],[1983.48,0.02],
  [1983.50,0.08],[1983.52,0.035],[1983.54,0.015],[1983.56,0.1],[1983.58,0.04],[1983.60,0.02],[1983.62,0.08],[1983.64,0.03],[1983.66,0.012],
  [1983.68,0.06],[1983.70,0.025],[1983.72,0.01],[1983.74,0.05],[1983.76,0.02]];

var c1984 = [[1984.58,520],[1984.24,220],[1984.60,150],[1984.24,72],[1984.62,47],[1984.24,23],[1984.25,12],[1984.24,8.7],[1984.60,30],
  [1984.61,18],[1984.60,9],[1984.03,0.43],[1984.03,0.105],
  [1984.10,6],[1984.12,2.5],[1984.14,1],[1984.16,0.4],[1984.18,0.15],[1984.20,0.06],[1984.22,0.025],[1984.26,4],[1984.28,1.6],[1984.30,0.6],
  [1984.32,0.25],[1984.34,0.1],[1984.36,0.04],[1984.38,0.016],[1984.40,3],[1984.42,1.2],[1984.44,0.5],[1984.46,0.2],[1984.48,0.08],
  [1984.50,0.03],[1984.52,0.012],[1984.54,2],[1984.56,0.8],[1984.58,0.3],[1984.60,0.12],[1984.62,0.05],[1984.64,0.02],[1984.66,1.5],
  [1984.68,0.6],[1984.70,0.25],[1984.72,0.1],[1984.74,0.04],[1984.76,0.016],[1984.78,0.007],
  [1984.21,0.032],[1984.21,0.018],[1984.22,0.01],[1984.21,0.007],
  [1984.11,0.5],[1984.13,0.2],[1984.15,0.08],[1984.17,0.03],[1984.19,0.3],[1984.21,0.12],[1984.23,0.05],[1984.27,0.6],[1984.29,0.2],
  [1984.31,0.08],[1984.33,0.03],[1984.35,0.4],[1984.37,0.15],[1984.39,0.06],[1984.41,0.3],[1984.43,0.1],[1984.45,0.04],[1984.47,0.5],
  [1984.49,0.2],[1984.51,0.07],[1984.53,0.03],[1984.55,0.4],[1984.57,0.15],[1984.59,0.06],[1984.61,0.3],[1984.63,0.1],[1984.65,0.04],
  [1984.67,0.2],[1984.69,0.08],[1984.71,0.03],[1984.73,0.12],[1984.75,0.05],[1984.77,0.02]];

var c1985 = [[1985.50,94],[1985.51,28],[1985.49,20],[1985.49,12.6],[1985.50,10],[1985.17,9.8],[1985.20,6.6],[1985.21,4.5],
  [1985.16,2.5],[1985.18,1],[1985.20,0.4],[1985.22,0.15],[1985.24,0.06],[1985.26,0.025],[1985.28,1.8],[1985.30,0.7],[1985.32,0.28],
  [1985.34,0.11],[1985.36,0.045],[1985.38,0.018],[1985.40,3],[1985.42,1.2],[1985.44,0.5],[1985.46,0.2],[1985.48,0.08],[1985.50,0.032],
  [1985.52,2.2],[1985.54,0.9],[1985.56,0.35],[1985.58,0.14],[1985.60,0.055],[1985.62,0.022],[1985.64,1.5],[1985.66,0.6],[1985.68,0.24],
  [1985.70,0.1],[1985.72,0.04],[1985.74,0.017],[1985.76,0.5],[1985.78,0.2],[1985.79,0.08],[1985.17,0.01],
  [1985.17,0.5],[1985.19,0.2],[1985.21,0.08],[1985.23,0.3],[1985.25,0.12],[1985.27,0.05],[1985.29,0.4],[1985.31,0.15],[1985.33,0.06],
  [1985.35,0.25],[1985.37,0.1],[1985.39,0.04],[1985.41,0.6],[1985.43,0.25],[1985.45,0.1],[1985.47,0.04],[1985.49,0.3],[1985.51,0.12],
  [1985.53,0.5],[1985.55,0.2],[1985.57,0.08],[1985.59,0.3],[1985.61,0.12],[1985.63,0.05],[1985.65,0.25],[1985.67,0.1],[1985.69,0.04],
  [1985.71,0.15],[1985.73,0.06],[1985.75,0.03],[1985.77,0.06]];

var c1987 = [[1987.65,48],[1987.66,25],[1987.67,14],[1987.66,6.6],[1987.65,2.5],[1987.66,2.1],[1987.22,1.45],[1987.22,0.9],[1987.23,0.6],
  [1987.22,0.34],[1987.61,1.1],[1987.62,0.8],
  [1987.19,0.2],[1987.21,0.1],[1987.23,0.05],[1987.25,0.025],[1987.27,0.012],[1987.29,0.15],[1987.31,0.07],[1987.33,0.035],[1987.35,0.017],
  [1987.37,0.008],[1987.39,0.12],[1987.41,0.06],[1987.43,0.03],[1987.45,0.015],[1987.47,0.18],[1987.49,0.09],[1987.51,0.045],[1987.53,0.022],
  [1987.55,0.011],[1987.57,0.14],[1987.59,0.07],[1987.61,0.035],[1987.63,0.017],[1987.65,0.008],[1987.67,0.1],[1987.69,0.05],[1987.71,0.025],
  [1987.73,0.012],[1987.75,0.006],[1987.77,0.03],
  [1987.80,0.0029],[1987.80,0.002],[1987.27,0.001],[1987.43,0.00083],[1987.78,0.00083],
  [1987.20,0.06],[1987.22,0.03],[1987.24,0.1],[1987.26,0.05],[1987.28,0.03],[1987.30,0.08],[1987.32,0.04],[1987.34,0.02],[1987.36,0.06],
  [1987.38,0.03],[1987.40,0.05],[1987.42,0.025],[1987.44,0.07],[1987.46,0.035],[1987.48,0.05],[1987.50,0.025],[1987.52,0.08],[1987.54,0.04],
  [1987.56,0.06],[1987.58,0.03],[1987.60,0.1],[1987.62,0.05],[1987.64,0.03],[1987.66,0.06],[1987.68,0.025],[1987.70,0.04],[1987.72,0.02]];

// cumulative sediment loading (ton/km^2), step values; null = missing record
var cumDates  = [1960.25, 1963.54, 1964.57, 1965.26, 1965.55, 1966.00, 1966.48, 1967.00, 1967.43, 1968.00, 1968.58, 1969.46,
  1970.24, 1970.90, 1971.51, 1972.00, 1972.54, 1973.00, 1973.40, 1973.52, 1974.52, 1975.33, 1976.19, 1976.67, 1977.67, 1978.40,
  1978.55, 1979.41, 1979.50, 1979.60, 1979.70, 1980.30, 1980.73, 1981.46, 1981.61, 1983.20, 1983.60, 1984.16, 1984.55, 1984.80,
  1985.55, 1985.95, 1985.96, 1986.86, 1987.65, 1987.97];
var cumValues = [0, 140, 206, 250, 489, 520, 890, 920, 944, 970, 1085, 1140,
  1248, 1300, 1411, 1440, 1606, 1630, 1683, 2063, 2127, 2182, 2247, 2290, 2616, 2703,
  2975, 3517, 3625, 3735, 4950, 4983, 5114, 5168, 5233, 5254, 5309, 5667, 6667, 6721,
  7047, 7047, null, 7047, 7154, 7154];

// shaded periods in panel (b)
var shadeStart = [1979.25, 1984.00];
var shadeEnd   = [1980.12, 1984.92];
var shadeLow   = [0, 130];
var shadeHigh  = [8020, 8080];

// axis ticks
var tickDates = ["1960-04-01", "1965-03-31", "1970-03-30", "1975-03-29", "1980-03-28", "1985-03-27"];
var logTicks = [1e-5, 1e-3, 1e-1, 1e1, 1e3];
var cumTicks = [0, 2500, 5000, 7500, 10000];

var svgWidth = 1289;
var svgHeight = 721;
var grey = "#808080";
var axisColor = "#a0a0a0";

function yearToDate(y) {
  var yr = Math.floor(y);
  var start = Date.UTC(yr, 0, 1);
  var end = Date.UTC(yr + 1, 0, 1);
  return new Date(start + (y - yr) * (end - start));
}

function fmtE(v) {
  var e = Math.round(Math.log10(v));
  var s = String(Math.abs(e)).padStart(2, "0");
  return "1.0E" + (e < 0 ? "-" : "+") + s;
}

var svg = d3.select("#chart")
  .append("svg")
  .attr("width", svgWidth)
  .attr("height", svgHeight);

var xScale = d3.scaleUtc()
  .domain([new Date(Date.UTC(1960, 3, 1)), new Date(Date.UTC(1988, 0, 5))])
  .range([125, 1285]);

var tickDateObjs = tickDates.map(d => new Date(d + "T00:00:00Z"));
var fmtTick = d3.utcFormat("%-m/%Y");

// panel (a) log scale, panel (b) linear scale
var yLog = d3.scaleLog().domain([1e-5, 1e3]).range([345, 15]);
var yCum = d3.scaleLinear().domain([0, 10000]).range([678, 371]);

function styleAxis(g) {
  g.select(".domain").attr("stroke", axisColor);
  g.selectAll(".tick line").attr("stroke", axisColor);
  g.selectAll(".tick text")
    .attr("fill", "#404040")
    .style("font-size", "18px")
    .style("font-family", "Lato, 'Open Sans', sans-serif");
}

// ---- panel (a) ----
svg.append("g")
  .attr("transform", "translate(0,345)")
  .call(d3.axisBottom(xScale).tickValues(tickDateObjs).tickFormat("").tickSize(7).tickSizeOuter(0))
  .call(styleAxis);

svg.append("g")
  .attr("transform", "translate(125,0)")
  .call(d3.axisLeft(yLog).tickValues(logTicks).tickFormat(fmtE).tickSize(7).tickPadding(15).tickSizeOuter(0))
  .call(styleAxis);

var dailyPoints = [].concat(c1963, c1964, c1965, c1966, c1967, c1968, c1969, c1970, c1971, c1972, c1973,
  c1974, c1975, c1976, c1977, c1978, c1979, c1980, c1981, c1982, c1983, c1984, c1985, c1987);

svg.append("g")
  .selectAll("circle")
  .data(dailyPoints)
  .enter()
  .append("circle")
  .attr("cx", d => xScale(yearToDate(d[0])))
  .attr("cy", d => yLog(d[1]))
  .attr("r", 2.2)
  .attr("fill", grey);

var titleA = svg.append("text")
  .attr("x", 127)
  .attr("y", 32);
titleA.append("tspan").style("font-size", "17px").attr("dy", "-6").text("(a)");
titleA.append("tspan").style("font-size", "28px").attr("dy", "6").text("Daily Sediment Loading");

svg.append("text")
  .attr("transform", "translate(19,180) rotate(-90)")
  .attr("text-anchor", "middle")
  .style("font-size", "18px")
  .attr("fill", "#404040")
  .text("Sediment Loading (ton/km^2)");

// ---- panel (b) ----
svg.append("g")
  .selectAll("rect")
  .data(shadeStart)
  .enter()
  .append("rect")
  .attr("x", (d, i) => xScale(yearToDate(d)))
  .attr("width", (d, i) => xScale(yearToDate(shadeEnd[i])) - xScale(yearToDate(d)))
  .attr("y", (d, i) => yCum(shadeHigh[i]))
  .attr("height", (d, i) => yCum(shadeLow[i]) - yCum(shadeHigh[i]))
  .attr("rx", 2)
  .attr("fill", "#d9d9d9");

svg.append("g")
  .attr("transform", "translate(0,678)")
  .call(d3.axisBottom(xScale).tickValues(tickDateObjs).tickFormat(fmtTick).tickSize(7).tickPadding(15).tickSizeOuter(0))
  .call(styleAxis);

svg.append("g")
  .attr("transform", "translate(125,0)")
  .call(d3.axisLeft(yCum).tickValues(cumTicks).tickFormat(d3.format(",")).tickSize(7).tickPadding(15).tickSizeOuter(0))
  .call(styleAxis);

var cumData = cumDates.map((d, i) => [yearToDate(d), cumValues[i]]);

var cumLine = d3.line()
  .defined(d => d[1] !== null)
  .x(d => xScale(d[0]))
  .y(d => yCum(d[1]))
  .curve(d3.curveStepAfter);

svg.append("path")
  .datum(cumData)
  .attr("d", cumLine)
  .attr("fill", "none")
  .attr("stroke", grey)
  .attr("stroke-width", 6.5)
  .attr("stroke-linejoin", "round")
  .attr("stroke-linecap", "round");

var titleB = svg.append("text")
  .attr("x", 127)
  .attr("y", 440);
titleB.append("tspan").style("font-size", "16px").attr("dy", "-3").text("(b) ");
titleB.append("tspan").style("font-size", "20px").attr("dy", "3").text("Cumulative Sediment Loading");

svg.append("text")
  .attr("transform", "translate(19,525) rotate(-90)")
  .attr("text-anchor", "middle")
  .style("font-size", "18px")
  .attr("fill", "#404040")
  .text("Sediment Loarding (ton/km^2)");
</script>
</body>
</html>
